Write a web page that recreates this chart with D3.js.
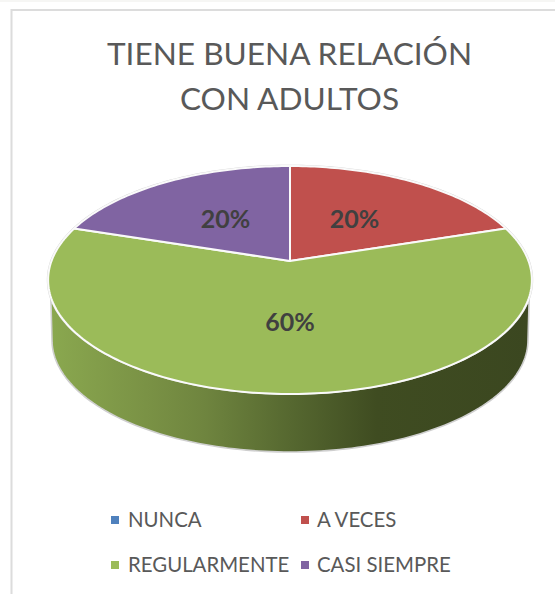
<!DOCTYPE html>
<html><head><meta charset="utf-8">
<script src="https://cdn.jsdelivr.net/npm/d3@7"></script>
<style>html,body{margin:0;padding:0;background:#fff}svg{display:block}text{font-family:Lato,"Open Sans",sans-serif}</style>
</head><body><svg id="c" width="555" height="594"></svg>
<script>
const categories=["NUNCA","A VECES","REGULARMENTE","CASI SIEMPRE"];
const values=[0,20,60,20];
const colors=["#4f81bd","#c0504d","#9bbb59","#8064a2"];
const titleLines=["TIENE BUENA RELACIÓN","CON ADULTOS"];
const sideStops=[[0,"#8aa84f"],[0.2,"#7a9245"],[0.32,"#6f853f"],[0.5,"#566830"],[0.68,"#3f4c21"],[1,"#3b4720"]];

const svg=d3.select("#c");
const defs=svg.append("defs");
svg.append("rect").attr("width",555).attr("height",594).attr("fill","#fff");
svg.append("rect").attr("width",555).attr("height",2).attr("fill","#f6f6f4");
svg.append("path").attr("d","M11.5,594V10H555").attr("fill","none").attr("stroke","#dcdcdc").attr("stroke-width",2);

const cx=290,apexY=261,persp=-0.1667,ky=67.3,kx=238.5;
const top3=(X,Y)=>[cx+kx*X/(1+persp*Y),(apexY+ky*Y)/(1+persp*Y)];
const rimPoint=a=>top3(Math.sin(a),-Math.cos(a));
const lineGen=d3.line();
const pie=d3.pie().sort(null).value(d=>d).startAngle(0).endAngle(2*Math.PI);
const arcs=pie(values);

const botCy=340,botRx=238,botRy=112;
const bot=a=>[cx+botRx*Math.cos(a),botCy+botRy*Math.sin(a)];
const topEdge=d3.range(0,1.0001,1/120).map(t=>{const a=d3.interpolate(Math.PI/2-1.56,Math.PI/2+1.56)(t);return [cx+242.5*Math.cos(a),280+114*Math.sin(a)];}).filter(p=>p[1]>=296);
const botEdge=d3.range(0,1.0001,1/120).map(t=>{const a=d3.interpolate(Math.PI,0)(t);return bot(a);});
const grad=defs.append("linearGradient").attr("id","side").attr("gradientUnits","userSpaceOnUse")
 .attr("x1",50).attr("x2",530).attr("y1",0).attr("y2",0);
sideStops.forEach(s=>grad.append("stop").attr("offset",s[0]).attr("stop-color",s[1]));
const outer=[...topEdge,...botEdge];
const upperRim=d3.range(-1.9,1.9001,.02).map(a=>rimPoint(a));
svg.append("path").attr("d",lineGen(outer)+"Z").attr("fill","url(#side)").attr("stroke","#cfcfcf").attr("stroke-width",1.6).attr("stroke-linejoin","round");
svg.append("path").attr("d",lineGen(upperRim)).attr("fill","none").attr("stroke","#d4d4d4").attr("stroke-width",2.6);

svg.append("g").selectAll("path").data(arcs.filter(d=>d.value>0)).join("path")
 .attr("d",d=>{
   const n=Math.ceil((d.endAngle-d.startAngle)/.02);
   const pts=d3.range(n+1).map(i=>rimPoint(d.startAngle+(d.endAngle-d.startAngle)*i/n));
   return lineGen([[cx,apexY],...pts])+"Z";
 })
 .attr("fill",d=>colors[d.index]).attr("stroke","#fafafa").attr("stroke-width",2).attr("stroke-linejoin","round");

const labelPos=d=>{
  const m=(d.startAngle+d.endAngle)/2;
  const r=d.value>40?0.505:0.49;
  return top3(Math.sin(m)*r,-Math.cos(m)*r);
};
svg.append("g").selectAll("text").data(arcs.filter(d=>d.value>0)).join("text")
 .attr("x",d=>labelPos(d)[0]).attr("y",d=>labelPos(d)[1]+8.5)
 .attr("text-anchor","middle").attr("font-size",25).attr("font-weight",700).attr("fill","#404040")
 .text(d=>d.value+"%");

svg.append("g").selectAll("text").data(titleLines).join("text")
 .attr("x",289.5).attr("y",(d,i)=>65+i*45).attr("text-anchor","middle")
 .attr("font-size",31.6).attr("fill","#595959").text(d=>d);

const colX=d3.scalePoint().domain([0,1]).range([111,301]);
const rowY=d3.scalePoint().domain([0,1]).range([520,565]);
const leg=svg.append("g").selectAll("g").data(categories).join("g")
 .attr("transform",(d,i)=>`translate(${colX(i%2)},${rowY(Math.floor(i/2))})`);
leg.append("rect").attr("x",0).attr("y",-4).attr("width",8).attr("height",8).attr("fill",(d,i)=>colors[i]);
leg.append("text").attr("x",(d,i)=>i%2?16:17).attr("y",7).attr("font-size",20.4).attr("fill","#595959").text(d=>d);
</script></body></html>
